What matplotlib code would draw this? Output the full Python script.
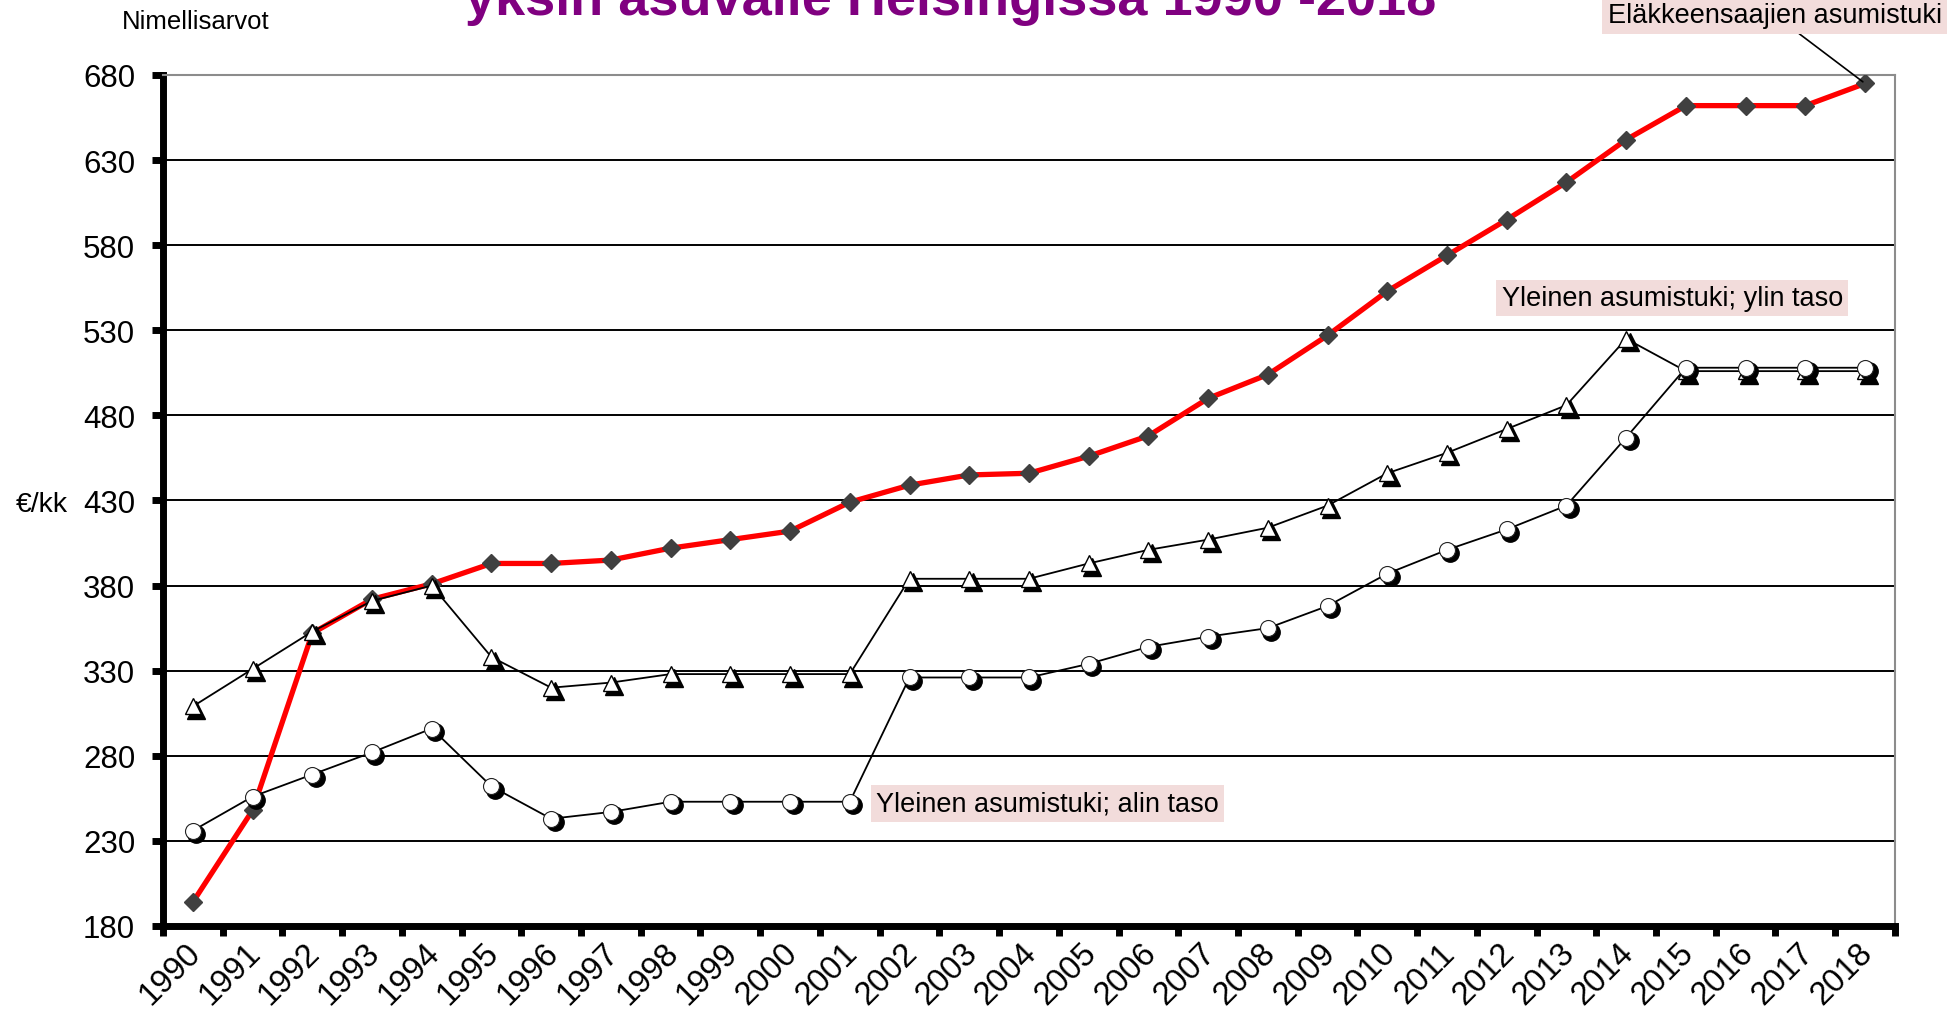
import matplotlib
matplotlib.use("Agg")
import matplotlib.pyplot as plt
import matplotlib.transforms as mtransforms

# Data
years = [str(y) for y in range(1990, 2019)]

elakkeensaajat = [194, 248, 352, 372, 381, 393, 393, 395, 402, 407, 412, 429,
                  439, 445, 446, 456, 468, 490, 504, 527, 553, 574, 595, 617,
                  642, 662, 662, 662, 675]

ylin_taso = [309, 331, 353, 371, 380, 338, 320, 323, 328, 328, 328, 328,
             384, 384, 384, 393, 401, 407, 414, 427, 446, 458, 472, 486,
             525, 506, 506, 506, 506]

alin_taso = [236, 256, 269, 282, 296, 262, 243, 247, 253, 253, 253, 253,
             326, 326, 326, 334, 344, 350, 355, 368, 387, 401, 413, 427,
             467, 508, 508, 508, 508]

yticks = list(range(180, 681, 50))

plt.rcParams['font.family'] = ['Liberation Sans', 'DejaVu Sans']

fig = plt.figure(figsize=(19.59, 10.20), dpi=100)
ax = fig.add_axes([0.0832, 0.0912, 0.8841, 0.8343])

x = list(range(len(years)))

# shadow offset for the white markers
shadow = ax.transData + mtransforms.ScaledTranslation(2.5 / 72, -2.5 / 72, fig.dpi_scale_trans)

# Eläkkeensaajien asumistuki
ax.plot(x, elakkeensaajat, color='#ff0000', lw=3.8, zorder=3)
ax.plot(x, elakkeensaajat, ls='none', marker='D', ms=9.5, color='#404040',
        mec='#404040', zorder=4)

# Yleinen asumistuki; ylin taso
ax.plot(x, ylin_taso, color='black', lw=1.3, zorder=5)
ax.plot(x, ylin_taso, ls='none', marker='^', ms=12.5, color='black',
        transform=shadow, zorder=5)
ax.plot(x, ylin_taso, ls='none', marker='^', ms=11.5, mfc='white', mec='black',
        mew=1.0, zorder=6)

# Yleinen asumistuki; alin taso
ax.plot(x, alin_taso, color='black', lw=1.3, zorder=7)
ax.plot(x, alin_taso, ls='none', marker='o', ms=12.5, color='black',
        transform=shadow, zorder=7)
ax.plot(x, alin_taso, ls='none', marker='o', ms=11.5, mfc='white', mec='#222222',
        mew=0.8, zorder=8)

ax.set_xlim(-0.5, len(years) - 0.5)
ax.set_ylim(180, 680)
ax.set_yticks(yticks)
ax.set_yticklabels([str(v) for v in yticks], fontsize=22.5)
ax.set_xticks(x)
ax.set_xticklabels(years, fontsize=23.5, rotation=45, ha='right', va='top',
                   rotation_mode='anchor')
ax.set_xticks([i - 0.5 for i in range(len(years) + 1)], minor=True)
ax.tick_params(axis='x', which='major', length=0, pad=8)
ax.tick_params(axis='x', which='minor', length=7, width=5, color='black')
ax.tick_params(axis='y', length=8, width=5, color='black', pad=12)

# nudge the year labels a little to the left
shift = mtransforms.ScaledTranslation(-0.08, 0, fig.dpi_scale_trans)
for lbl in ax.get_xticklabels():
    lbl.set_transform(lbl.get_transform() + shift)

ax.grid(axis='y', color='black', lw=1.4, zorder=1)
for side in ['left', 'bottom']:
    ax.spines[side].set_linewidth(5)
    ax.spines[side].set_color('black')
for side in ['top', 'right']:
    ax.spines[side].set_linewidth(1.5)
    ax.spines[side].set_color('#8c8c8c')

pink = '#f2dcdb'

# Series labels
ax.annotate('Eläkkeensaajien asumistuki', xy=(x[-1], elakkeensaajat[-1]),
            xytext=(0.906, 0.984), textcoords='figure fraction',
            ha='center', va='center', fontsize=19.5,
            bbox=dict(boxstyle='square,pad=0.2', fc=pink, ec='none'),
            arrowprops=dict(arrowstyle='-', color='black', lw=1.2,
                            shrinkA=0, shrinkB=2),
            annotation_clip=False, zorder=10)
ax.text(24.77, 549, 'Yleinen asumistuki; ylin taso', ha='center', va='center',
        fontsize=19.5, bbox=dict(boxstyle='square,pad=0.2', fc=pink, ec='none'),
        zorder=10)
ax.text(14.31, 252, 'Yleinen asumistuki; alin taso', ha='center', va='center',
        fontsize=19.5, bbox=dict(boxstyle='square,pad=0.2', fc=pink, ec='none'),
        zorder=10)

# Texts outside the plot
fig.text(0.062, 0.978, 'Nimellisarvot', fontsize=18.5, ha='left', va='center')
fig.text(0.008, 0.505, '€/kk', fontsize=20.5, ha='left', va='center')
fig.text(0.4855, 1 - 15 / 1020, 'yksin asuvalle Helsingissä 1990 -2018',
         fontsize=39, fontweight='bold', color='#800080', ha='center',
         va='baseline')

fig.savefig('out.png', dpi=100)
